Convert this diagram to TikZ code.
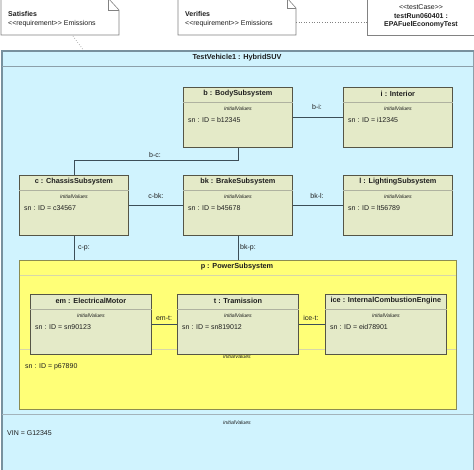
\documentclass[tikz,border=0pt]{standalone}
\usepackage{fontspec}
\setmainfont{Liberation Sans}
\usetikzlibrary{calc}
\definecolor{framefill}{RGB}{208,243,254}
\definecolor{frameline}{RGB}{140,160,170}
\definecolor{framedark}{RGB}{120,145,158}
\definecolor{objfill}{RGB}{228,234,200}
\definecolor{objline}{RGB}{85,85,70}
\definecolor{objsepc}{RGB}{175,178,160}
\definecolor{pfill}{RGB}{255,255,119}
\definecolor{pline}{RGB}{140,140,80}
\definecolor{psepc}{RGB}{215,215,170}
\definecolor{conn}{RGB}{60,78,88}
\definecolor{txt}{RGB}{30,30,30}
\definecolor{notel}{RGB}{130,130,130}
\tikzset{
  obj/.style={draw=objline, fill=objfill, line width=0.8pt, anchor=north west, inner sep=0pt, minimum width=109pt, minimum height=60pt},
  objw/.style={obj, minimum width=121pt},
  titletext/.style={font=\fontsize{7.3}{8}\selectfont\bfseries, text=txt, inner sep=0pt},
  ivtext/.style={font=\fontsize{5.2}{6}\selectfont\itshape, text=txt, inner sep=0pt},
  valtext/.style={font=\fontsize{7}{8}\selectfont, text=txt, inner sep=0pt, anchor=west},
  objsep/.style={draw=objsepc, line width=0.6pt},
  conline/.style={draw=conn, line width=0.8pt},
  conlabel/.style={font=\fontsize{7}{8}\selectfont, text=txt, inner sep=0pt},
  notebox/.style={draw=notel, fill=white, line width=0.6pt},
  notetext/.style={font=\fontsize{7}{8}\selectfont, text=txt, inner sep=0pt, anchor=west},
}
\newcommand\objparts[3]{%
  \node[titletext] (#1t) at ([yshift=-6.5pt]#1.north) {#2};
  \draw[objsep] ([yshift=-15pt]#1.north west) -- ([yshift=-15pt]#1.north east);
  \node[ivtext] (#1iv) at ([yshift=-22pt]#1.north) {initialValues};
  \node[valtext] (#1v) at ([xshift=5pt,yshift=-33pt]#1.north west) {#3};
}
\begin{document}
\begin{tikzpicture}[x=1pt,y=-1pt]
\useasboundingbox (0,0) rectangle (474,470);
\fill[white] (0,0) rectangle (474,470);

% ---- notes ----
\path[notebox] (1,-2) -- (108,-2) -- (119,10) -- (119,35) -- (1,35) -- cycle;
\draw[draw=notel, line width=0.6pt] (108,-2) -- (108,10) -- (119,10);
\node[notetext] (satT) at (8,14) {\bfseries Satisfies};
\node[notetext] (satR) at (8,24) {{<}{<}requirement{>}{>} Emissions};

\path[notebox] (178,-2) -- (287,-2) -- (296,8) -- (296,35) -- (178,35) -- cycle;
\draw[draw=notel, line width=0.6pt] (287,-2) -- (287,8) -- (296,8);
\node[notetext] (verT) at (185,14) {\bfseries Verifies};
\node[notetext] (verR) at (185,24) {{<}{<}requirement{>}{>} Emissions};

\node[notebox, anchor=north west, minimum width=108pt, minimum height=37pt, inner sep=0pt] (tc) at (367,-2) {};
\node[font=\fontsize{7}{8.6}\selectfont, text=txt, align=center, inner sep=0pt] (tcT) at (421,16.5)
  {{<}{<}testCase{>}{>}\\\bfseries testRun060401 :\\\bfseries EPAFuelEconomyTest};

\coordinate (satA) at (73,36);
\coordinate (vehA) at (84,51);
\coordinate (verA) at (296,22);
\coordinate (tcA) at (367,22);
\draw[draw=notel, line width=0.6pt, dotted] (satA) -- (vehA);
\draw[draw=notel, line width=0.6pt, dotted] (verA) -- (tcA);

% ---- main frame ----
\node[draw=frameline, fill=framefill, line width=0.8pt, anchor=north west, inner sep=0pt,
      minimum width=472pt, minimum height=421pt] (veh) at (1,51) {};
\draw[framedark, line width=2pt] ([xshift=0.5pt]veh.north west) -- ([xshift=0.5pt]veh.south west);
\draw[framedark, line width=1.4pt] (veh.north west) -- (veh.north east);
\node[titletext] (vehT) at (237,58) {TestVehicle1 : HybridSUV};
\draw[draw=frameline, line width=0.6pt] (2,66) -- (473,66);
\draw[draw=frameline!80, line width=0.6pt] (2,414) -- (473,414);
\node[ivtext] (vehIV) at (237,423) {initialValues};
\node[valtext] (vehV) at (7,433) {VIN = G12345};

% ---- power subsystem ----
\node[draw=pline, fill=pfill, line width=0.9pt, anchor=north west, inner sep=0pt,
      minimum width=437pt, minimum height=149pt] (p) at (19,260) {};
\node[titletext] (pT) at (237,267) {p : PowerSubsystem};
\draw[draw=psepc, line width=0.6pt] (19.5,275) -- (455.5,275);
\draw[draw=psepc, line width=0.6pt] (19.5,349) -- (455.5,349);
\node[ivtext] (pIV) at (237,357) {initialValues};
\node[valtext] (pV) at (25,367) {sn : ID = p67890};

% ---- parts ----
\node[obj] (b) at (183,87) {};
\objparts{b}{b : BodySubsystem}{sn : ID = b12345}
\node[obj] (i) at (343,87) {};
\objparts{i}{i : Interior}{sn : ID = i12345}
\node[obj] (c) at (19,175) {};
\objparts{c}{c : ChassisSubsystem}{sn : ID = c34567}
\node[obj] (bk) at (183,175) {};
\objparts{bk}{bk : BrakeSubsystem}{sn : ID = b45678}
\node[obj] (l) at (343,175) {};
\objparts{l}{l : LightingSubsystem}{sn : ID = lt56789}
\node[objw] (em) at (30,294) {};
\objparts{em}{em : ElectricalMotor}{sn : ID = sn90123}
\node[objw] (t) at (177,294) {};
\objparts{t}{t : Tramission}{sn : ID = sn819012}
\node[objw] (ice) at (325,294) {};
\objparts{ice}{ice : InternalCombustionEngine}{sn : ID = eid78901}

% ---- connectors ----
\draw[conline] (b.east) -- (i.west);
\draw[conline] (b.south) -- (b.south |- 0,160) -| (c.north);
\draw[conline] (c.east) -- (bk.west);
\draw[conline] (bk.east) -- (l.west);
\draw[conline] (c.south) -- (c.south |- p.north);
\draw[conline] (bk.south) -- (bk.south |- p.north);
\draw[conline] (em.east) -- (t.west);
\draw[conline] (t.east) -- (ice.west);

\node[conlabel] (lbi) at (317,107) {b-i:};
\node[conlabel] (lbc) at (155,155) {b-c:};
\node[conlabel] (lcbk) at (156,196) {c-bk:};
\node[conlabel] (lbkl) at (317,196) {bk-l:};
\node[conlabel] (lcp) at (84,248) {c-p:};
\node[conlabel] (lbkp) at (248,248) {bk-p:};
\node[conlabel] (lemt) at (164,318) {em-t:};
\node[conlabel] (licet) at (311,318) {ice-t:};
\end{tikzpicture}
\end{document}
